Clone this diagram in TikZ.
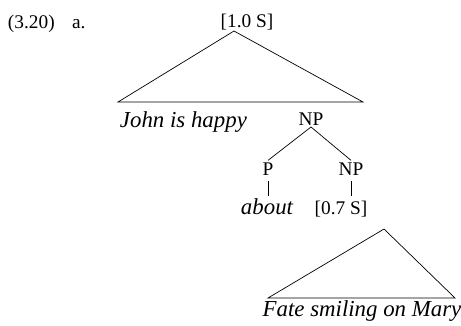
\documentclass[tikz,border=0pt]{standalone}
\usepackage{fontspec}
\setmainfont{Liberation Serif}
\usepackage{tikz}
\usetikzlibrary{positioning}

\begin{document}
\begin{tikzpicture}[
        x=0.03cm, y=-0.03cm,
        lab/.style={font=\fontsize{16.5}{18}\selectfont, inner sep=1.5pt},
        wrd/.style={lab, font=\fontsize{19.5}{21}\selectfont\itshape},
        br/.style={line width=0.6pt},
      ]
        \useasboundingbox (0,0) rectangle (461,325);

        % example number
        \node[lab, anchor=base west] (num) at (6,28) {(3.20)\hspace{0.9em}a.};

        % top clause
        \node[lab, anchor=base] (s1) at (247,27) {[1.0 S]};
        \coordinate (s1l) at (118,102);
        \coordinate (s1r) at (363,102);
        \draw[br] (234,31) coordinate (s1t) -- (s1l) -- (s1r) -- cycle;
        \node[wrd, anchor=base west] (john) at (118,127) {John is happy};
        \node[lab, anchor=base] (np1) at (311,125) {NP};

        % PP under NP
        \node[lab, anchor=base] (p)   at (268,175) {P};
        \node[lab, anchor=base] (np2) at (351,175) {NP};
        \draw[br] (np1.south) -- (p.north);
        \draw[br] (np1.south) -- (np2.north);
        \node[wrd, anchor=base] (about) at (267,214) {about};
        \node[lab, anchor=base] (s2) at (341,214) {[0.7 S]};
        \draw[br] (p.base) ++(0,6) -- ++(0,15);
        \draw[br] (np2.base) ++(0,6) -- ++(0,15);

        % lower clause
        \coordinate (s2l) at (268,298);
        \coordinate (s2r) at (455,298);
        \draw[br] (384,229) coordinate (s2t) -- (s2l) -- (s2r) -- cycle;
        \node[wrd, anchor=base] (fate) at (362,316) {Fate smiling on Mary};
      \end{tikzpicture}
\end{document}
